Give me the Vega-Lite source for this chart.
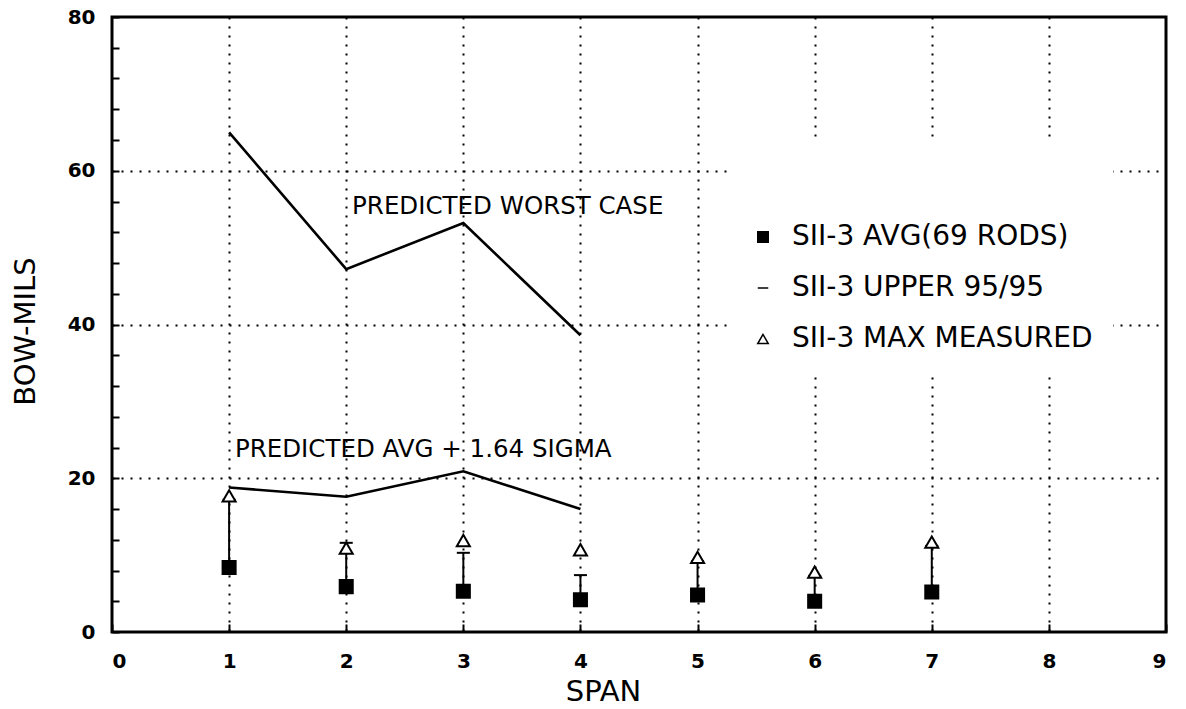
{
  "$schema": "https://vega.github.io/schema/vega-lite/v6.json",
  "width": 1054,
  "height": 615,
  "autosize": {"type": "none"},
  "padding": {"left": 112, "top": 17, "right": 20, "bottom": 77},
  "background": "white",
  "config": {
    "font": "DejaVu Sans",
    "view": {"stroke": "black", "strokeWidth": 3},
    "axis": {
      "domain": false,
      "tickColor": "black",
      "tickWidth": 2,
      "tickCount": 100,
      "format": "d",
      "gridColor": "black",
      "gridWidth": 2,
      "gridDash": [2, 7],
      "labelColor": "black",
      "labelFont": "DejaVu Sans",
      "labelFontSize": 20,
      "labelFontWeight": "bold",
      "labelOverlap": false,
      "titleFont": "DejaVu Sans",
      "titleFontSize": 29,
      "titleFontWeight": "normal",
      "titleColor": "black"
    },
    "legend": {
      "orient": "none",
      "legendX": 617,
      "legendY": 123,
      "fillColor": "white",
      "strokeColor": null,
      "padding": 20,
      "titleFontSize": 20,
      "titlePadding": 43,
      "labelFont": "DejaVu Sans",
      "labelFontSize": 28,
      "labelColor": "black",
      "labelLimit": 600,
      "labelOffset": 15,
      "rowPadding": 23,
      "symbolSize": 110,
      "symbolStrokeWidth": 1.5
    }
  },
  "datasets": {
    "measured": [
      {"span": 1, "avg": 8.4, "upper": 17.2, "max": 17.7},
      {"span": 2, "avg": 5.9, "upper": 11.6, "max": 10.9},
      {"span": 3, "avg": 5.3, "upper": 10.3, "max": 11.9},
      {"span": 4, "avg": 4.2, "upper": 7.4, "max": 10.7},
      {"span": 5, "avg": 4.8, "upper": 9.2, "max": 9.7},
      {"span": 6, "avg": 4.0, "upper": 7.3, "max": 7.8},
      {"span": 7, "avg": 5.2, "upper": 11.2, "max": 11.7}
    ],
    "predicted": [
      {"span": 1, "worst": 65.0, "sigma": 18.8},
      {"span": 2, "worst": 47.2, "sigma": 17.6},
      {"span": 3, "worst": 53.2, "sigma": 20.9},
      {"span": 4, "worst": 38.6, "sigma": 16.0}
    ],
    "notes": [
      {"label": "PREDICTED WORST CASE", "span": 2.05, "bow": 55.3},
      {"label": "PREDICTED AVG + 1.64 SIGMA", "span": 1.05, "bow": 23.7}
    ]
  },
  "encoding": {
    "x": {
      "field": "span",
      "type": "quantitative",
      "scale": {"domain": [0, 9], "nice": false, "zero": false},
      "axis": {
        "title": "SPAN",
        "values": [0, 1, 2, 3, 4, 5, 6, 7, 8, 9],
        "tickSize": -8,
        "labelPadding": 27,
        "titlePadding": 6,
        "titleX": 491,
        "grid": true,
        "gridOpacity": {"condition": {"test": "datum.value > 0 && datum.value < 9", "value": 1}, "value": 0}
      }
    }
  },
  "layer": [
    {
      "data": {"name": "predicted"},
      "transform": [{"fold": ["worst", "sigma"], "as": ["curve", "bow"]}],
      "mark": {"type": "line", "color": "black", "strokeWidth": 2.6},
      "encoding": {
        "y": {
          "field": "bow",
          "type": "quantitative",
          "scale": {"domain": [0, 80], "nice": false},
          "axis": {
            "title": "BOW-MILS",
            "values": [0, 4, 8, 12, 16, 20, 24, 28, 32, 36, 40, 44, 48, 52, 56, 60, 64, 68, 72, 76, 80],
            "labelExpr": "datum.value % 20 === 0 ? datum.label : ''",
            "tickSize": -7,
            "labelPadding": 24,
            "titleX": -87,
            "titleY": 314,
            "titleBaseline": "middle",
            "grid": true,
            "gridOpacity": {"condition": {"test": "datum.value % 20 === 0 && datum.value > 0 && datum.value < 80", "value": 1}, "value": 0}
          }
        },
        "detail": {"field": "curve"}
      }
    },
    {
      "data": {"name": "notes"},
      "mark": {"type": "text", "align": "left", "baseline": "middle", "fontSize": 24.5, "font": "DejaVu Sans", "color": "black"},
      "encoding": {
        "y": {"field": "bow", "type": "quantitative", "title": "BOW-MILS"},
        "text": {"field": "label"}
      }
    },
    {
      "data": {"name": "measured"},
      "mark": {"type": "rule", "color": "black", "strokeWidth": 2},
      "encoding": {
        "y": {"field": "avg", "type": "quantitative", "title": "BOW-MILS"},
        "y2": {"field": "upper"}
      }
    },
    {
      "data": {"name": "measured"},
      "transform": [{"fold": ["avg", "upper", "max"], "as": ["series", "bow"]}],
      "mark": {"type": "point", "filled": true, "stroke": "black", "strokeWidth": 2, "opacity": 1, "size": 170},
      "encoding": {
        "y": {"field": "bow", "type": "quantitative", "title": "BOW-MILS"},
        "shape": {
          "field": "series",
          "type": "nominal",
          "scale": {"domain": ["avg", "upper", "max"], "range": ["square", "stroke", "triangle-up"]},
          "legend": {
            "title": " ",
            "labelExpr": "datum.value === 'avg' ? 'SII-3 AVG(69 RODS)' : datum.value === 'upper' ? 'SII-3 UPPER 95/95' : 'SII-3 MAX MEASURED'",
            "encode": {"symbols": {"stroke": {"value": "black"}, "strokeWidth": {"value": 1.5}}}
          }
        },
        "fill": {
          "field": "series",
          "type": "nominal",
          "scale": {"domain": ["avg", "upper", "max"], "range": ["black", "white", "white"]},
          "legend": {
            "title": " ",
            "labelExpr": "datum.value === 'avg' ? 'SII-3 AVG(69 RODS)' : datum.value === 'upper' ? 'SII-3 UPPER 95/95' : 'SII-3 MAX MEASURED'",
            "encode": {"symbols": {"stroke": {"value": "black"}, "strokeWidth": {"value": 1.5}}}
          }
        }
      }
    }
  ]
}
